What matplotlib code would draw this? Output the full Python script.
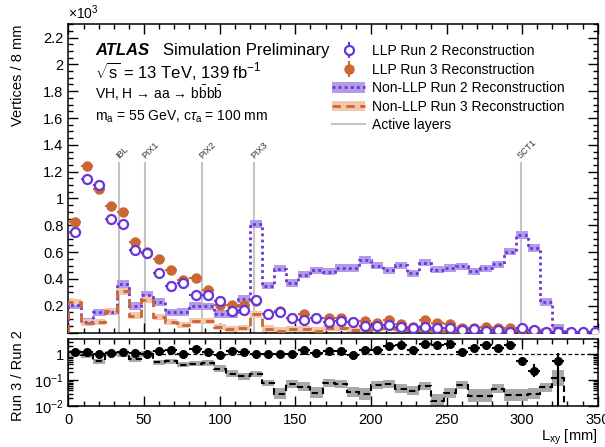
import numpy as np
import matplotlib.pyplot as plt
from matplotlib.patches import Patch
from matplotlib.lines import Line2D
from matplotlib.ticker import MultipleLocator, FuncFormatter, LogLocator, NullFormatter

plt.rcParams['font.family'] = ['Liberation Sans', 'DejaVu Sans']
plt.rcParams['mathtext.fontset'] = 'custom'
plt.rcParams['mathtext.rm'] = 'Liberation Sans'
plt.rcParams['mathtext.it'] = 'Liberation Sans:italic'
plt.rcParams['mathtext.bf'] = 'Liberation Sans:bold'

# vertices / 8 mm, in units of 10^3
bin_width = 8
llp_run2 = [0.751, 1.143, 1.098, 0.848, 0.811, 0.619, 0.597, 0.444, 0.344, 0.369, 0.277,
            0.277, 0.232, 0.162, 0.170, 0.245, 0.137, 0.157, 0.107, 0.095, 0.112, 0.082,
            0.088, 0.082, 0.052, 0.050, 0.058, 0.045, 0.032, 0.045, 0.032, 0.037, 0.020,
            0.028, 0.013, 0.020, 0.007, 0.032, 0.020, 0.002, 0.005, 0.003, 0.002, 0.001]
llp_run3 = [0.823, 1.243, 1.068, 0.941, 0.898, 0.676, 0.600, 0.549, 0.469, 0.394, 0.405,
            0.319, 0.207, 0.207, 0.202, 0.232, 0.137, 0.162, 0.112, 0.137, 0.112, 0.112,
            0.107, 0.082, 0.088, 0.070, 0.095, 0.062, 0.045, 0.095, 0.070, 0.062, 0.037,
            0.037, 0.045, 0.037, 0.032, 0.018, 0.005, 0.000, 0.003, 0.000, 0.000, 0.001]
nonllp_run2 = [0.202, 0.077, 0.150, 0.157, 0.362, 0.200, 0.282, 0.227, 0.150, 0.155, 0.200,
               0.195, 0.140, 0.140, 0.252, 0.811, 0.350, 0.477, 0.369, 0.432, 0.463, 0.455,
               0.480, 0.480, 0.540, 0.500, 0.463, 0.501, 0.442, 0.522, 0.470, 0.481, 0.494,
               0.457, 0.479, 0.509, 0.603, 0.729, 0.631, 0.227, 0.035]
nonllp_run3 = [0.230, 0.075, 0.077, 0.162, 0.307, 0.127, 0.245, 0.115, 0.077, 0.058, 0.088,
               0.088, 0.040, 0.025, 0.035, 0.135, 0.030, 0.014, 0.027, 0.024, 0.015, 0.034,
               0.034, 0.016, 0.016, 0.033, 0.033, 0.023, 0.017, 0.032, 0.007, 0.015, 0.031,
               0.011, 0.012, 0.024, 0.016, 0.020, 0.019, 0.012, 0.004]
band_run2 = 0.028
band_run3 = 0.024

# ratio panel (Run 3 / Run 2)
llp_ratio = [1.16, 1.16, 1.00, 1.09, 1.16, 1.09, 1.00, 1.27, 1.39, 1.03, 1.61, 1.19, 0.89,
             1.27, 1.19, 1.00, 1.03, 1.03, 1.03, 1.37, 1.10, 1.35, 1.27, 0.95, 1.47, 1.39,
             2.10, 2.16, 1.39, 2.50, 2.16, 2.43, 1.20, 1.71, 2.29, 1.71, 2.16, 0.556, 0.229,
             np.nan, 0.524]
llp_ratio_fac = [1.06] * 30 + [1.08, 1.08, 1.10, 1.10, 1.12, 1.12, 1.15, 1.3, 1.75, 1.0, 2.1]
nonllp_ratio = [1.10, 0.89, 0.52, 1.03, 1.00, 0.64, 1.00, 0.48, 0.52, 0.39, 0.43, 0.45, 0.27,
                0.176, 0.139, 0.171, 0.077, 0.030, 0.072, 0.056, 0.033, 0.075, 0.070, 0.034,
                0.029, 0.066, 0.072, 0.047, 0.039, 0.061, 0.015, 0.032, 0.063, 0.025, 0.025,
                0.047, 0.027, 0.027, 0.030, 0.052, 0.12]
# half-height of the grey band, in decades
nonllp_ratio_dex = [0.10] * 12 + [0.13] * 5 + [0.22, 0.15, 0.17, 0.20, 0.15, 0.15, 0.20,
                    0.22, 0.15, 0.15, 0.18, 0.18, 0.15, 0.28, 0.20, 0.15, 0.24, 0.24,
                    0.18, 0.22, 0.22, 0.22, 0.17, 0.32]

layers = ['IBL', 'PIX1', 'PIX2', 'PIX3', 'SCT1']
layer_pos = [33.25, 50.5, 88.5, 122.5, 299.0]

purple = '#6a35d8'
purple_band = '#b29be8'
orange = '#cc6633'
orange_band = '#f2c6ae'
grey_line = '#c4c4c4'

edges = np.arange(len(nonllp_run2) + 1) * bin_width
x_llp = np.arange(len(llp_run2)) * bin_width + bin_width / 2
x_ratio = edges[:-1] + bin_width / 2

fig = plt.figure(figsize=(6.05, 4.47), dpi=100)
ax = fig.add_axes([0.1132, 0.256, 0.8748, 0.690])
rax = fig.add_axes([0.1132, 0.0917, 0.8748, 0.1493], sharex=ax)

# active layers
for name, pos in zip(layers, layer_pos):
    ax.plot([pos, pos], [0, 1.265], color=grey_line, lw=1.5, zorder=1)
    ax.text(pos + 1.0, 1.285, name, rotation=45, rotation_mode='anchor', ha='left',
            va='bottom', fontsize=6.5, color='#333333')

r2 = np.array(nonllp_run2)
r3 = np.array(nonllp_run3)
ax.bar(x_ratio, 2 * band_run2, bottom=r2 - band_run2, width=bin_width, color=purple_band, lw=0, zorder=2)
ax.bar(x_ratio, 2 * band_run3, bottom=r3 - band_run3, width=bin_width, color=orange_band, lw=0, zorder=2)
ax.stairs(r2, edges, baseline=0, color=purple, lw=2, ls=(0, (1, 1.2)), zorder=3)
ax.stairs(r3, edges, baseline=0, color=orange, lw=2, ls=(0, (3, 2)), zorder=3)

ax.errorbar(x_llp, llp_run2, xerr=bin_width / 2, yerr=0.025, fmt='o', ms=6.5, mfc='white',
            mec=purple, mew=1.6, ecolor=purple, elinewidth=1.5, capsize=0, zorder=5)
ax.errorbar(x_llp, llp_run3, xerr=bin_width / 2, yerr=0.025, fmt='o', ms=6.5, color=orange,
            elinewidth=1.5, capsize=0, zorder=4)

ax.set_xlim(0, 350)
ax.set_ylim(0, 2.3)
ax.xaxis.set_major_locator(MultipleLocator(50))
ax.xaxis.set_minor_locator(MultipleLocator(10))
ax.yaxis.set_major_locator(MultipleLocator(0.2))
ax.yaxis.set_minor_locator(MultipleLocator(0.05))
ax.yaxis.set_major_formatter(FuncFormatter(lambda v, p: '' if abs(v) < 1e-6 else '%g' % round(v, 1)))
ax.tick_params(axis='x', labelbottom=False)
ax.set_ylabel('Vertices / 8 mm', fontsize=10.5, loc='top')
ax.yaxis.set_label_coords(-0.082, 1.0)
ax.text(0.0, 1.008, r'$\times$10$^{3}$', transform=ax.transAxes, ha='left', va='bottom', fontsize=10)

# labels
fig.text(95 / 605, 1 - 55 / 447, 'ATLAS', fontsize=12, fontweight='bold', style='italic', va='baseline')
fig.text(163 / 605, 1 - 55 / 447, 'Simulation Preliminary', fontsize=12, va='baseline')
fig.text(95 / 605, 1 - 78 / 447, r'$\sqrt{\mathrm{s}}$ = 13 TeV, 139 fb$^{-1}$', fontsize=12, va='baseline')
fig.text(95 / 605, 1 - 99 / 447, r'VH, H → aa → b$\bar{\mathrm{b}}$b$\bar{\mathrm{b}}$',
         fontsize=10, va='baseline')
fig.text(95 / 605, 1 - 120.5 / 447, r'm$_{\mathrm{a}}$ = 55 GeV, c$\tau_{\mathrm{a}}$ = 100 mm',
         fontsize=10, va='baseline')

h_r2 = (Line2D([], [], marker='|', ms=11, mew=1.5, color=purple, ls='none'),
        Line2D([], [], marker='o', ms=6.5, mfc='white', mec=purple, mew=1.6, ls='none'))
h_r3 = (Line2D([], [], marker='|', ms=11, mew=1.5, color=orange, ls='none'),
        Line2D([], [], marker='o', ms=6.5, color=orange, ls='none'))
h_n2 = (Patch(facecolor=purple_band, edgecolor='none'), Line2D([], [], color=purple, lw=2, ls=(0, (1, 1.2))))
h_n3 = (Patch(facecolor=orange_band, edgecolor='none'), Line2D([], [], color=orange, lw=2, ls=(0, (3, 2))))
h_al = Line2D([], [], color=grey_line, lw=1.5)
ax.legend([h_r2, h_r3, h_n2, h_n3, h_al],
          ['LLP Run 2 Reconstruction', 'LLP Run 3 Reconstruction', 'Non-LLP Run 2 Reconstruction',
           'Non-LLP Run 3 Reconstruction', 'Active layers'],
          loc='upper left', bbox_to_anchor=(332 / 605, 1 - 44 / 447), bbox_transform=fig.transFigure,
          frameon=False, fontsize=10, borderpad=0, borderaxespad=0, handlelength=2.4,
          handletextpad=0.5, labelspacing=0.33, handleheight=0.8)

# ratio panel
nr = np.array(nonllp_ratio)
dex = np.array(nonllp_ratio_dex)
rax.bar(x_ratio, nr * 10 ** dex - nr / 10 ** dex, bottom=nr / 10 ** dex, width=bin_width,
        color='#a9a9a9', lw=0, zorder=2)
rax.stairs(nr, edges, baseline=1e-3, color='black', lw=1.5, ls=(0, (3, 2)), zorder=3)
rax.axhline(1, color='black', lw=0.9, ls=(0, (3, 2)), zorder=1)

lr = np.array(llp_ratio)
fac = np.array(llp_ratio_fac)
lo = lr - lr / fac
lo[-1] = lr[-1] - 1e-3
hi = lr * fac - lr
rax.errorbar(x_ratio, lr, xerr=bin_width / 2, yerr=[lo, hi], fmt='o', ms=5.5, color='black',
             elinewidth=1.5, capsize=0, zorder=4)

rax.set_yscale('log')
rax.set_ylim(0.01, 3.7)
rax.set_yticks([0.01, 0.1, 1])
rax.set_yticklabels(['$10^{-2}$', '$10^{-1}$', '1'])
rax.yaxis.set_minor_locator(LogLocator(base=10, subs=np.arange(2, 10) * 0.1 * 10, numticks=10))
rax.yaxis.set_minor_formatter(NullFormatter())
rax.set_ylabel('Run 3 / Run 2', fontsize=10.5)
rax.yaxis.set_label_coords(-0.082, 0.45)
rax.set_xlabel(r'L$_{\mathrm{xy}}$ [mm]', fontsize=10.5, loc='right')
rax.xaxis.set_label_coords(1.0, -0.33)

for a in (ax, rax):
    a.tick_params(which='both', direction='in', top=True, right=True, labelsize=10.5, width=1)
    a.tick_params(which='major', length=7)
    a.tick_params(which='minor', length=3.5)
    for s in a.spines.values():
        s.set_linewidth(1.1)
rax.tick_params(axis='x', pad=5)

fig.savefig('out.png', dpi=100)
